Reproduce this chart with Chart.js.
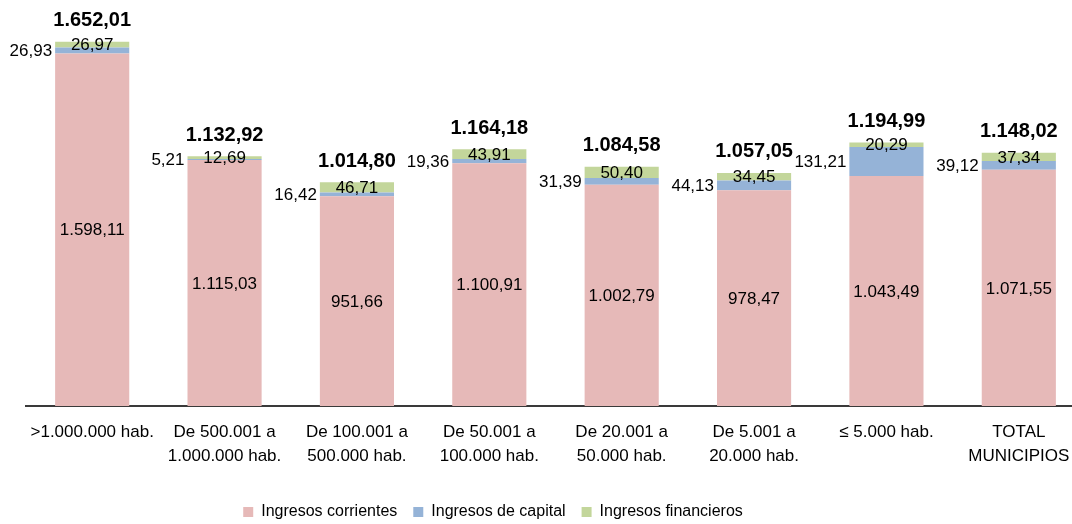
<!DOCTYPE html>
<html><head><meta charset="utf-8">
<script src="https://cdn.jsdelivr.net/npm/chart.js@4/dist/chart.umd.min.js"></script>
<style>
html,body{margin:0;padding:0;background:#fff;overflow:hidden}
#wrap{width:1072px;height:524px;overflow:hidden;position:relative}
canvas{display:block}
</style></head><body>
<div id="wrap"><canvas id="c" width="1090" height="524"></canvas></div>
<script>
const categories = [">1.000.000 hab.", ["De 500.001 a", "1.000.000 hab."], ["De 100.001 a", "500.000 hab."], ["De 50.001 a", "100.000 hab."], ["De 20.001 a", "50.000 hab."], ["De 5.001 a", "20.000 hab."], "≤ 5.000 hab.", ["TOTAL", "MUNICIPIOS"]];
const seriesNames = ["Ingresos corrientes", "Ingresos de capital", "Ingresos financieros"];
const corrientes = [1598.11, 1115.03, 951.66, 1100.91, 1002.79, 978.47, 1043.49, 1071.55];
const capital = [26.93, 5.21, 16.42, 19.36, 31.39, 44.13, 131.21, 39.12];
const financieros = [26.97, 12.69, 46.71, 43.91, 50.40, 34.45, 20.29, 37.34];
const totales = [1652.01, 1132.92, 1014.80, 1164.18, 1084.58, 1057.05, 1194.99, 1148.02];
const colors = ["#E6B9B8", "#95B3D7", "#C3D69B"];

const FONT = '"Liberation Sans", Arial, sans-serif';
function fmt(v) {
  const s = v.toFixed(2).split('.');
  const i = s[0].replace(/\B(?=(\d{3})+(?!\d))/g, '.');
  return i + ',' + s[1];
}

const labelPlugin = {
  id: 'barLabels',
  afterDatasetsDraw(chart) {
    const ctx = chart.ctx;
    const m0 = chart.getDatasetMeta(0), m1 = chart.getDatasetMeta(1), m2 = chart.getDatasetMeta(2);
    ctx.save();
    ctx.fillStyle = '#000';
    ctx.textBaseline = 'middle';
    for (let i = 0; i < categories.length; i++) {
      const b0 = m0.data[i], b1 = m1.data[i], b2 = m2.data[i];
      const left = b0.x - b0.width / 2;
      ctx.font = '17px ' + FONT;
      ctx.textAlign = 'center';
      ctx.fillText(fmt(corrientes[i]), b0.x, (b0.y + b0.base) / 2 + 1);
      ctx.textAlign = 'right';
      ctx.fillText(fmt(capital[i]), left - 3, (b1.y + b1.base) / 2 + 1);
      ctx.textAlign = 'center';
      ctx.fillText(fmt(financieros[i]), b2.x, (b2.y + b2.base) / 2 + 1);
      ctx.font = 'bold 20px ' + FONT;
      ctx.fillText(fmt(totales[i]), b2.x, b2.y - 21);
    }
    ctx.restore();
  }
};

const legendShift = {
  id: 'legendShift',
  afterLayout(chart) {
    const lg = chart.legend;
    if (lg) { lg.left -= 125; lg.top += 6; lg.bottom += 6; }
  }
};

new Chart(document.getElementById('c'), {
  type: 'bar',
  data: {
    labels: categories,
    datasets: [
      { label: seriesNames[0], data: corrientes, backgroundColor: colors[0] },
      { label: seriesNames[1], data: capital, backgroundColor: colors[1] },
      { label: seriesNames[2], data: financieros, backgroundColor: colors[2] }
    ]
  },
  options: {
    responsive: false,
    animation: false,
    events: [],
    layout: { padding: { top: 9, left: 26, right: 5, bottom: 0 } },
    datasets: { bar: { categoryPercentage: 1, barPercentage: 0.56, borderWidth: 0 } },
    scales: {
      x: {
        stacked: true,
        grid: { display: false, drawTicks: false },
        border: { display: true, color: '#3a3a3a', width: 2 },
        ticks: { color: '#000', padding: 14, maxRotation: 0, autoSkip: false, font: { family: FONT, size: 17, lineHeight: 1.41 } }
      },
      y: {
        stacked: true,
        display: false,
        min: 0,
        max: 1800
      }
    },
    plugins: {
      legend: {
        position: 'bottom',
        labels: { boxWidth: 10, boxHeight: 10, padding: 16, color: '#000', font: { family: FONT, size: 16 } }
      },
      tooltip: { enabled: false }
    }
  },
  plugins: [labelPlugin, legendShift]
});
</script>
</body></html>
